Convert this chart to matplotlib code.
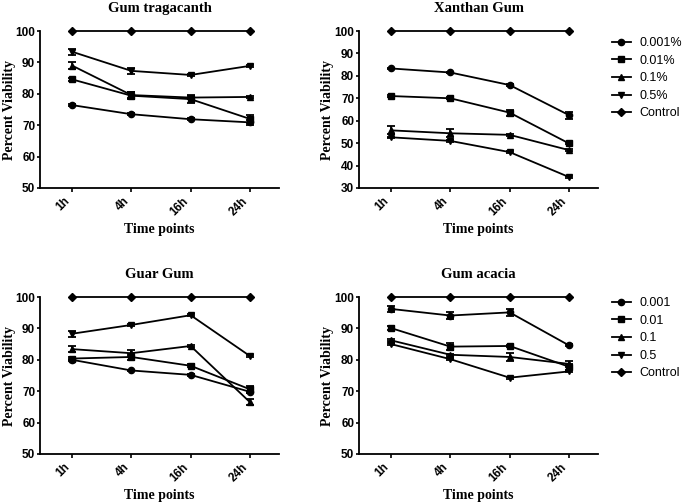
import numpy as np
import matplotlib
matplotlib.use("Agg")
import matplotlib.pyplot as plt
from matplotlib.lines import Line2D
from matplotlib.transforms import ScaledTranslation

# time points shared by all panels
times = ["1h", "4h", "16h", "24h"]

# Gum tragacanth
gt_001 = [76.4, 73.5, 71.9, 70.9]
gt_01 = [84.6, 79.4, 78.3, 72.0]
gt_1 = [89.0, 79.6, 78.8, 79.0]
gt_5 = [93.4, 87.3, 86.0, 88.9]
gt_ctrl = [100, 100, 100, 100]
gt_001_err = [0.3, 0.3, 0.3, 0.8]
gt_01_err = [0.4, 1.2, 1.3, 1.2]
gt_1_err = [1.2, 1.0, 0.4, 0.3]
gt_5_err = [1.0, 0.9, 0.4, 0.3]

# Xanthan gum
xg_001 = [83.3, 81.5, 75.9, 62.5]
xg_01 = [71.0, 70.0, 63.6, 49.9]
xg_1 = [55.7, 54.4, 53.7, 46.9]
xg_5 = [52.6, 51.0, 46.0, 34.9]
xg_ctrl = [100, 100, 100, 100]
xg_001_err = [0.3, 0.3, 0.3, 1.6]
xg_01_err = [0.3, 0.4, 1.3, 0.4]
xg_1_err = [1.8, 1.8, 0.3, 0.3]
xg_5_err = [0.3, 0.4, 0.3, 0.3]

# Guar gum
gg_001 = [80.0, 76.6, 75.2, 69.8]
gg_01 = [80.4, 80.9, 78.1, 70.6]
gg_1 = [83.4, 82.1, 84.4, 66.5]
gg_5 = [88.3, 91.1, 94.2, 81.2]
gg_ctrl = [100, 100, 100, 100]
gg_001_err = [0.3, 0.3, 0.3, 0.4]
gg_01_err = [0.5, 1.0, 0.5, 1.2]
gg_1_err = [1.0, 1.0, 0.3, 1.0]
gg_5_err = [1.0, 0.3, 0.3, 0.3]

# Gum acacia
ga_001 = [96.2, 94.1, 95.1, 84.6]
ga_01 = [90.1, 84.2, 84.4, 77.8]
ga_1 = [86.2, 81.6, 80.9, 78.7]
ga_5 = [85.0, 80.2, 74.3, 76.3]
ga_ctrl = [100, 100, 100, 100]
ga_001_err = [1.0, 1.0, 1.2, 0.3]
ga_01_err = [0.7, 1.1, 0.4, 1.0]
ga_1_err = [0.3, 0.3, 1.2, 1.0]
ga_5_err = [0.3, 0.3, 0.3, 0.3]

labels_pct = ["0.001%", "0.01%", "0.1%", "0.5%", "Control"]
labels_num = ["0.001", "0.01", "0.1", "0.5", "Control"]
markers = ["o", "s", "^", "v", "D"]

panels = [
    ("Gum tragacanth", [gt_001, gt_01, gt_1, gt_5, gt_ctrl],
     [gt_001_err, gt_01_err, gt_1_err, gt_5_err, None], (50, 100), None),
    ("Xanthan Gum", [xg_001, xg_01, xg_1, xg_5, xg_ctrl],
     [xg_001_err, xg_01_err, xg_1_err, xg_5_err, None], (30, 100), labels_pct),
    ("Guar Gum", [gg_001, gg_01, gg_1, gg_5, gg_ctrl],
     [gg_001_err, gg_01_err, gg_1_err, gg_5_err, None], (50, 100), None),
    ("Gum acacia", [ga_001, ga_01, ga_1, ga_5, ga_ctrl],
     [ga_001_err, ga_01_err, ga_1_err, ga_5_err, None], (50, 100), labels_num),
]

# axes boxes in figure fraction (left, bottom, width, height)
W, H = 685, 504
AW, AH = 239, 157
boxes = [
    (40 / W, 1 - 188 / H, AW / W, AH / H),
    (359 / W, 1 - 188 / H, AW / W, AH / H),
    (40 / W, 1 - 454 / H, AW / W, AH / H),
    (359 / W, 1 - 454 / H, AW / W, AH / H),
]
legend_pos = [None, (612 / W, 1 - 37 / H), None, (612 / W, 1 - 297 / H)]

sans = "Liberation Sans"
serif = "Liberation Serif"

fig = plt.figure(figsize=(6.85, 5.04), dpi=100)
x = np.arange(len(times))

for (title, series, errs, ylim, leg_labels), box, lpos in zip(panels, boxes, legend_pos):
    ax = fig.add_axes(box)
    handles = []
    for vals, err, m in zip(series, errs, markers):
        ms = 4.5 if m != "D" else 4
        ax.errorbar(x, vals, yerr=err, color="black", marker=m,
                    markersize=ms, lw=1.3,
                    elinewidth=1.3, capsize=3, capthick=1.3, clip_on=False,
                    zorder=3)
        handles.append(Line2D([], [], color="black", marker=m, markersize=ms, lw=1.3))
    ax.set_xlim(-0.54, 3.49)
    ax.set_ylim(*ylim)
    ax.set_yticks(np.arange(ylim[0], ylim[1] + 1, 10))
    ax.set_xticks(x)
    ax.set_xticklabels(times, rotation=45, ha="right", va="top",
                       fontfamily=sans, fontweight="bold", fontsize=8.5)
    for lab in ax.get_xticklabels():
        lab.set_transform(lab.get_transform() + ScaledTranslation(4 / 100, 0, fig.dpi_scale_trans))
    for lab in ax.get_yticklabels():
        lab.set_fontfamily(sans)
        lab.set_fontweight("bold")
        lab.set_fontsize(8.5)
    ax.spines["top"].set_visible(False)
    ax.spines["right"].set_visible(False)
    ax.spines["left"].set_linewidth(1.3)
    ax.spines["bottom"].set_linewidth(1.3)
    ax.tick_params(axis="y", length=2.5, width=1.2, pad=1)
    ax.tick_params(axis="x", length=3, width=1.2, pad=2)
    ax.set_title(title, fontfamily=serif, fontweight="bold", fontsize=10.5, pad=14)
    ax.set_xlabel("Time points", fontfamily=serif, fontweight="bold", fontsize=10, va="center")
    ax.set_ylabel("Percent Viability", fontfamily=serif, fontweight="bold", fontsize=10, va="center")
    ax.xaxis.set_label_coords(0.5, -41 / AH)
    ax.yaxis.set_label_coords(-31 / AW, 0.5)
    if leg_labels is not None:
        fig.legend(handles, leg_labels, loc="upper left", bbox_to_anchor=lpos,
                   frameon=False, prop={"family": sans, "size": 9},
                   handlelength=1.5, handletextpad=0.7, labelspacing=0.45,
                   borderpad=0, borderaxespad=0)

fig.savefig("out.png", dpi=100)
